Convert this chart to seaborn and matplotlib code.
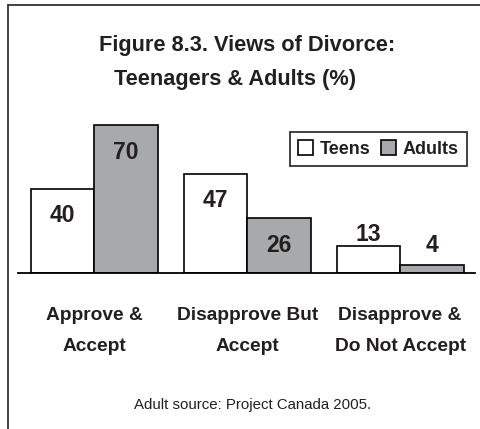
import matplotlib
matplotlib.use("Agg")
import matplotlib.pyplot as plt
from matplotlib import font_manager
from matplotlib.lines import Line2D
from matplotlib.patches import Patch
import seaborn as sns
import pandas as pd

# Survey results (%)
categories = ["Approve &\nAccept", "Disapprove But\nAccept", "Disapprove &\nDo Not Accept"]
groups = ["Teens", "Adults"]
teens = [40, 47, 13]
adults = [70, 26, 4]

title_line1 = "Figure 8.3. Views of Divorce:"
title_line2 = "Teenagers & Adults (%)"
source_note = "Adult source: Project Canada 2005."

df = pd.DataFrame({
    "category": categories * 2,
    "group": [groups[0]] * len(categories) + [groups[1]] * len(categories),
    "pct": teens + adults,
})

sns.set_theme(style="white")
names = {f.name for f in font_manager.fontManager.ttflist}
narrow = "Liberation Sans Narrow" if "Liberation Sans Narrow" in names else "Liberation Sans"
plt.rcParams["font.family"] = [narrow, "DejaVu Sans"]

TXT = "#231f20"
GRAY = "#a7a9ac"

fig = plt.figure(figsize=(4.8, 4.29), dpi=100)
ax = fig.add_axes([18 / 480, (429 - 273) / 429, (475 - 18) / 480, 169 / 429])

sns.barplot(data=df, x="category", y="pct", hue="group", order=categories,
            hue_order=groups, palette=["white", GRAY], edgecolor="black",
            linewidth=1.2, width=0.83, saturation=1, legend=False, ax=ax)

ax.set_xlim(-0.5, 2.49)
ax.set_ylim(0, 80)
for s in ["top", "right", "left"]:
    ax.spines[s].set_visible(False)
ax.spines["bottom"].set_color("black")
ax.spines["bottom"].set_linewidth(1.3)
ax.set_xlabel("")
ax.set_ylabel("")
ax.set_yticks([])
ax.tick_params(axis="x", length=0, pad=24.5)
ax.set_xticks(range(len(categories)))
ax.set_xticklabels(categories, fontsize=13.8, fontweight="bold", color=TXT,
                   linespacing=2.1)

# value labels: inside tall bars, above short ones
for container in ax.containers:
    for rect in container:
        h = rect.get_height()
        cx = rect.get_x() + rect.get_width() / 2
        if h >= 20:
            off = -27
        elif h >= 10:
            off = 11
        else:
            off = 19
        ax.annotate(f"{h:.0f}", (cx, h), xytext=(0, off), textcoords="offset pixels",
                    ha="center", va="center",
                    fontsize=16.5, fontweight="bold", color=TXT)

handles = [Patch(facecolor="white", edgecolor="black", linewidth=1.2),
           Patch(facecolor=GRAY, edgecolor="black", linewidth=1.2)]
leg = ax.legend(handles, groups, ncol=2, loc="upper left",
                bbox_to_anchor=((290 - 18) / 457, (273 - 132) / 169),
                frameon=True, fancybox=False, edgecolor="black",
                prop={"weight": "bold", "size": 13}, handlelength=0.8,
                handleheight=0.85, handletextpad=0.4, columnspacing=0.6,
                borderpad=0.45, borderaxespad=0)
leg.get_frame().set_linewidth(1.3)
for t in leg.get_texts():
    t.set_color(TXT)

fig.text(247 / 480, 1 - 45 / 429, title_line1, ha="center", va="center",
         fontsize=15.7, fontweight="bold", color=TXT)
fig.text(235 / 480, 1 - 80 / 429, title_line2, ha="center", va="center",
         fontsize=15.7, fontweight="bold", color=TXT)
fig.text(253 / 480, 1 - 405 / 429, source_note, ha="center", va="center",
         fontsize=10.8, color=TXT)

# page frame: left and top rules
fig.add_artist(Line2D([8 / 480, 8 / 480], [0, 1 - 5 / 429], transform=fig.transFigure,
                      color="#333333", linewidth=1.3))
fig.add_artist(Line2D([8 / 480, 1], [1 - 5 / 429, 1 - 5 / 429], transform=fig.transFigure,
                      color="#333333", linewidth=1.3))

fig.savefig("out.png", dpi=100)
